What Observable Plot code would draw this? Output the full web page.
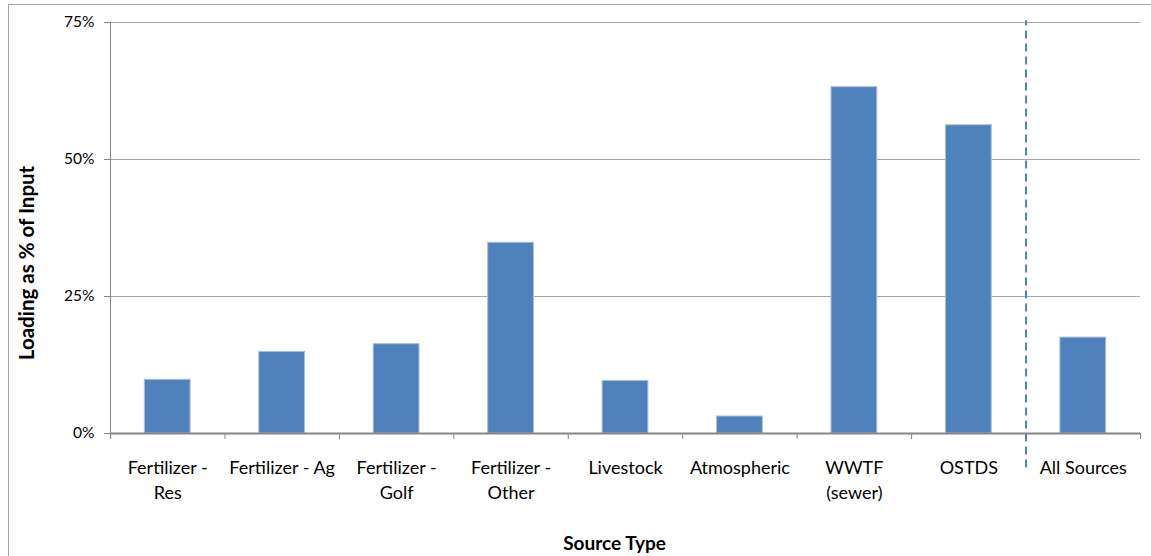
<!DOCTYPE html>
<html>
<head>
<meta charset="utf-8">
<script src="https://cdn.jsdelivr.net/npm/d3@7"></script>
<script src="https://cdn.jsdelivr.net/npm/@observablehq/plot@0.6"></script>
<style>
  html, body { margin: 0; padding: 0; background: #fff; overflow: hidden; }
  #wrap { position: relative; width: 1151px; height: 556px; }
  #frame { position: absolute; left: 8px; top: 4px; width: 1300px; height: 700px; border: 1px solid #a6a6a6; box-sizing: border-box; }
  #chart { position: absolute; left: 0; top: 0; }
  #chart svg { background: transparent; }
</style>
</head>
<body>
<div id="wrap"><div id="frame"></div><div id="chart"></div></div>
<script>
const categories = ["Fertilizer -\nRes", "Fertilizer - Ag", "Fertilizer -\nGolf", "Fertilizer -\nOther", "Livestock", "Atmospheric", "WWTF\n(sewer)", "OSTDS", "All Sources"];
const values = [0.098, 0.149, 0.163, 0.348, 0.096, 0.031, 0.632, 0.5625, 0.175];
const yTicks = [0, 0.25, 0.5, 0.75];
const yTitle = "Loading as % of Input";
const xTitle = "Source Type";
const separatorIndex = 8;
const separatorSpan = [-0.063, 0.753];

const data = categories.map((c, i) => ({category: c, value: values[i], i}));
const boundaries = d3.range(categories.length + 1);
const centers = d3.range(categories.length).map(i => i + 0.5);
const font = "Lato, 'Open Sans', sans-serif";

const chart = Plot.plot({
  width: 1151,
  height: 556,
  marginLeft: 110,
  marginRight: 11,
  marginTop: 22,
  marginBottom: 123,
  style: {fontFamily: font, background: "transparent", color: "#000"},
  x: {type: "linear", domain: [0, categories.length], axis: null},
  y: {domain: [0, 0.75], axis: null},
  marks: [
    Plot.gridY(yTicks, {stroke: "#a6a6a6", strokeOpacity: 1, strokeWidth: 1}),
    Plot.ruleX([0], {y1: 0, y2: 0.75, stroke: "#868686", strokeWidth: 1}),
    Plot.axisY({ticks: yTicks, tickFormat: d3.format(".0%"), tickSize: 6, tickPadding: 10, stroke: "#868686", fontSize: 15.5, fill: "#000", label: null}),
    Plot.rectY(data, {x1: d => d.i + 0.3, x2: d => d.i + 0.7, y: "value", fill: "#4f81bd", stroke: "#a7bfde", strokeWidth: 1}),
    Plot.ruleY([0], {stroke: "#868686", strokeWidth: 2}),
    Plot.axisX({ticks: boundaries, tickFormat: () => "", tickSize: 6, stroke: "#868686", label: null}),
    Plot.axisX({ticks: centers, tickFormat: d => categories[Math.floor(d)], tickSize: 0, tickPadding: 23, fontSize: 18, lineHeight: 1.38, fill: "#000", label: null}),
    Plot.ruleX([separatorIndex], {y1: separatorSpan[0], y2: separatorSpan[1], stroke: "#4f81bd", strokeWidth: 2, strokeDasharray: "8,5"}),
    Plot.text([yTitle], {frameAnchor: "left", textAnchor: "middle", dx: -83, dy: 35, rotate: -90, fontSize: 20.5, fontWeight: "bold", fill: "#000"}),
    Plot.text([xTitle], {frameAnchor: "bottom", dx: -11, dy: 116, fontSize: 19, fontWeight: "bold", fill: "#000"})
  ]
});
document.getElementById("chart").appendChild(chart);
</script>
</body>
</html>
